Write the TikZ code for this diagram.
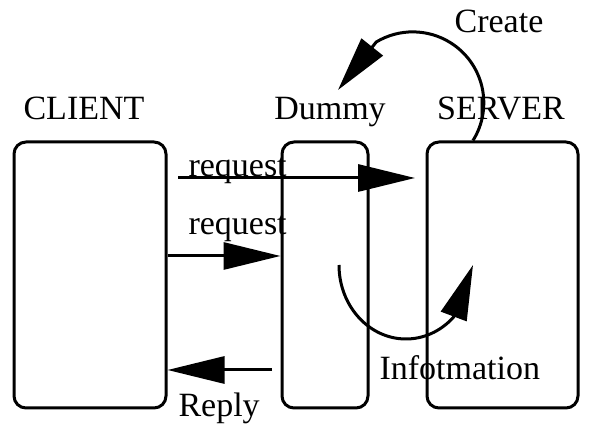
\documentclass[tikz,border=0pt]{standalone}
\usepackage{fontspec}
\setmainfont{Liberation Serif}
\usetikzlibrary{positioning,arrows.meta}

\begin{document}
\begin{tikzpicture}[x=1pt,y=1pt,line width=3pt,>={Triangle[length=57pt,width=27pt]},
  box/.style={draw,rounded corners=12pt,inner sep=0pt,minimum height=266pt},
  lbl/.style={font=\fontsize{34}{40}\selectfont,inner sep=0pt}]
  \useasboundingbox (0,0) rectangle (590,428);
  \node[box,minimum width=152pt] (client) at (90,153) {};
  \node[box,minimum width=86pt] (dummy) at (325,153) {};
  \node[box,minimum width=151pt] (server) at (502.5,153) {};
  \node[lbl,anchor=base] (clientlbl) at (84,308) {CLIENT};
  \node[lbl,anchor=base] (dummylbl) at (330,308) {Dummy};
  \node[lbl,anchor=base] (serverlbl) at (501,308) {SERVER};
  \node[lbl,anchor=base] (create) at (499,395) {Create};
  \node[lbl,anchor=base west] (req1) at (187,251) {request};
  \node[lbl,anchor=base west] (req2) at (187,193) {request};
  \node[lbl,anchor=base west] (reply) at (177,11) {Reply};
  \node[lbl,anchor=base west] (info) at (378,48) {Infotmation};
  \coordinate (reqA) at (178,250);
  \coordinate (reqB) at (415,250);
  \coordinate (replyA) at (272,58);
  \coordinate (createtip) at (338,338);
  \coordinate (infoA) at (339,163);
  \coordinate (infotip) at (473,163);
  \draw[->] (reqA) -- (reqB);
  \draw[->] (client.east |- 0,172) -- (dummy.west |- 0,172);
  \draw[->] (replyA) -- (client.east |- replyA);
  \draw[->,>={Triangle[length=55pt,width=27pt]}] (server.north -| 473,0)
    arc[start angle=-32,end angle=121,radius=71] -- (createtip);
  \draw[->,>={Triangle[length=55pt,width=27pt]}] (infoA)
    arc[start angle=180,end angle=315,x radius=67,y radius=74] -- (infotip);
\end{tikzpicture}
\end{document}
